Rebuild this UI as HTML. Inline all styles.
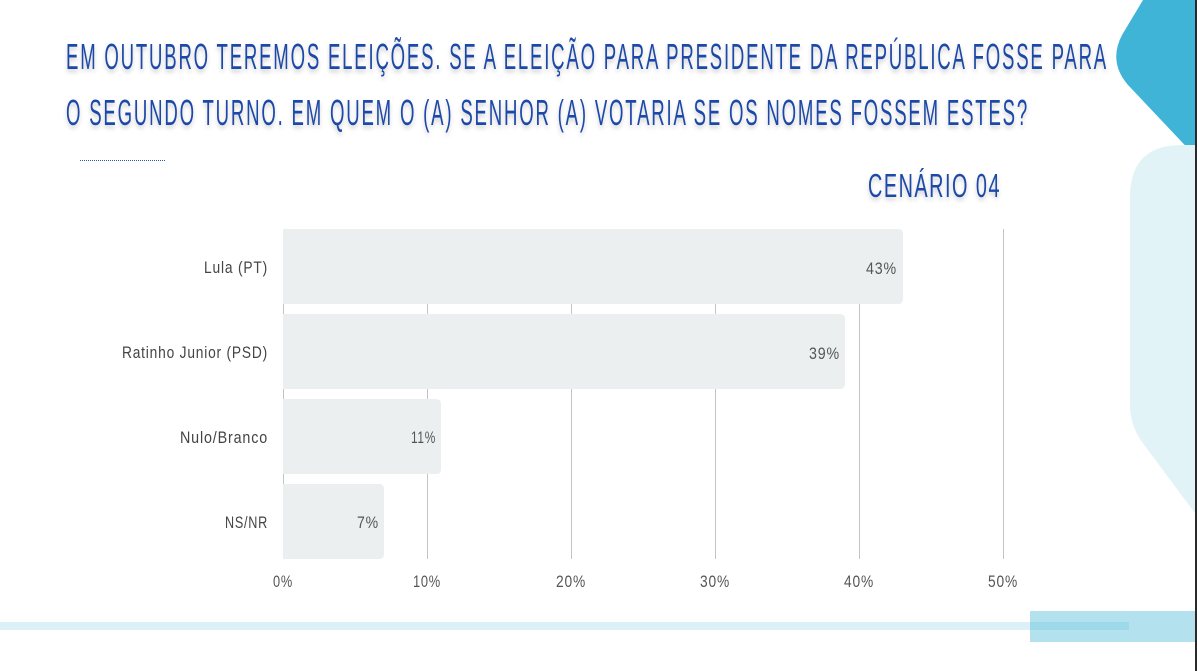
<!DOCTYPE html>
<html>
<head>
<meta charset="utf-8">
<style>
html,body{margin:0;padding:0;background:#fff;}
svg{display:block;}
text{font-family:"Liberation Sans",sans-serif;}
</style>
</head>
<body>
<svg width="1197" height="671" viewBox="0 0 1197 671" xmlns="http://www.w3.org/2000/svg">
<defs>
<filter id="sh" x="-5%" y="-30%" width="110%" height="180%">
<feDropShadow dx="0" dy="3" stdDeviation="2.2" flood-color="#000" flood-opacity="0.2"/>
</filter>
</defs>
<rect x="0" y="0" width="1197" height="671" fill="#fff"/>

<!-- decorative shapes -->
<path d="M1143,0 L1197,0 L1197,158 L1128,85 Q1108,62 1122,35 Z" fill="#3fb4d6"/>
<path d="M1197,145 L1182,145 Q1130,145 1130,197 L1130,405 Q1130,425 1142,442 L1197,516 Z" fill="#e2f3f8"/>

<!-- bottom bands -->
<rect x="1030" y="611" width="165" height="31" fill="#b3e2ee"/>
<rect x="0" y="622" width="1129" height="8" fill="rgba(61,180,213,0.18)"/>

<!-- right edge line -->
<rect x="1195" y="0" width="2" height="671" fill="#2a2a2a"/>

<!-- title -->
<g filter="url(#sh)" fill="#1f48a8" font-size="36" letter-spacing="3.5">
<text x="66" y="69" textLength="1042" lengthAdjust="spacingAndGlyphs">EM OUTUBRO TEREMOS ELEIÇÕES. SE A ELEIÇÃO PARA PRESIDENTE DA REPÚBLICA FOSSE PARA</text>
<text x="66" y="125" textLength="963" lengthAdjust="spacingAndGlyphs">O SEGUNDO TURNO. EM QUEM O (A) SENHOR (A) VOTARIA SE OS NOMES FOSSEM ESTES?</text>
<text x="868" y="197" font-size="33" letter-spacing="2.5" textLength="133" lengthAdjust="spacingAndGlyphs">CENÁRIO 04</text>
</g>

<!-- dotted line -->
<line x1="80" y1="160.5" x2="165" y2="160.5" stroke="#2d55c0" stroke-width="1" stroke-dasharray="1,1"/>

<!-- gridlines -->
<g stroke="#c4c4c4" stroke-width="1">
<line x1="283.5" y1="229" x2="283.5" y2="559"/>
<line x1="427.5" y1="229" x2="427.5" y2="559"/>
<line x1="571.5" y1="229" x2="571.5" y2="559"/>
<line x1="715.5" y1="229" x2="715.5" y2="559"/>
<line x1="859.5" y1="229" x2="859.5" y2="559"/>
<line x1="1003.5" y1="229" x2="1003.5" y2="559"/>
</g>

<!-- bars -->
<g fill="#eceff0">
<path d="M283,229 H898 Q903,229 903,234 V299 Q903,304 898,304 H283 Z"/>
<path d="M283,314 H840 Q845,314 845,319 V384 Q845,389 840,389 H283 Z"/>
<path d="M283,399 H436 Q441,399 441,404 V469 Q441,474 436,474 H283 Z"/>
<path d="M283,484 H379 Q384,484 384,489 V554 Q384,559 379,559 H283 Z"/>
</g>

<!-- category labels -->
<g fill="#444" font-size="17" text-anchor="end" letter-spacing="1">
<text x="268" y="273" textLength="64" lengthAdjust="spacingAndGlyphs">Lula (PT)</text>
<text x="268" y="358" textLength="146" lengthAdjust="spacingAndGlyphs">Ratinho Junior (PSD)</text>
<text x="268" y="443" textLength="88" lengthAdjust="spacingAndGlyphs">Nulo/Branco</text>
<text x="268" y="528" textLength="43" lengthAdjust="spacingAndGlyphs">NS/NR</text>
</g>

<!-- value labels -->
<g fill="#555" font-size="17" letter-spacing="1">
<text x="866" y="274" textLength="31" lengthAdjust="spacingAndGlyphs">43%</text>
<text x="809" y="359" textLength="31" lengthAdjust="spacingAndGlyphs">39%</text>
<text x="411" y="443" textLength="25" lengthAdjust="spacingAndGlyphs">11%</text>
<text x="357" y="528" textLength="22" lengthAdjust="spacingAndGlyphs">7%</text>
</g>

<!-- x tick labels -->
<g fill="#555" font-size="17" letter-spacing="1">
<text x="273" y="587" textLength="20" lengthAdjust="spacingAndGlyphs">0%</text>
<text x="413" y="587" textLength="28" lengthAdjust="spacingAndGlyphs">10%</text>
<text x="556" y="587" textLength="30" lengthAdjust="spacingAndGlyphs">20%</text>
<text x="700" y="587" textLength="30" lengthAdjust="spacingAndGlyphs">30%</text>
<text x="844" y="587" textLength="30" lengthAdjust="spacingAndGlyphs">40%</text>
<text x="988" y="587" textLength="30" lengthAdjust="spacingAndGlyphs">50%</text>
</g>
</svg>
</body>
</html>
